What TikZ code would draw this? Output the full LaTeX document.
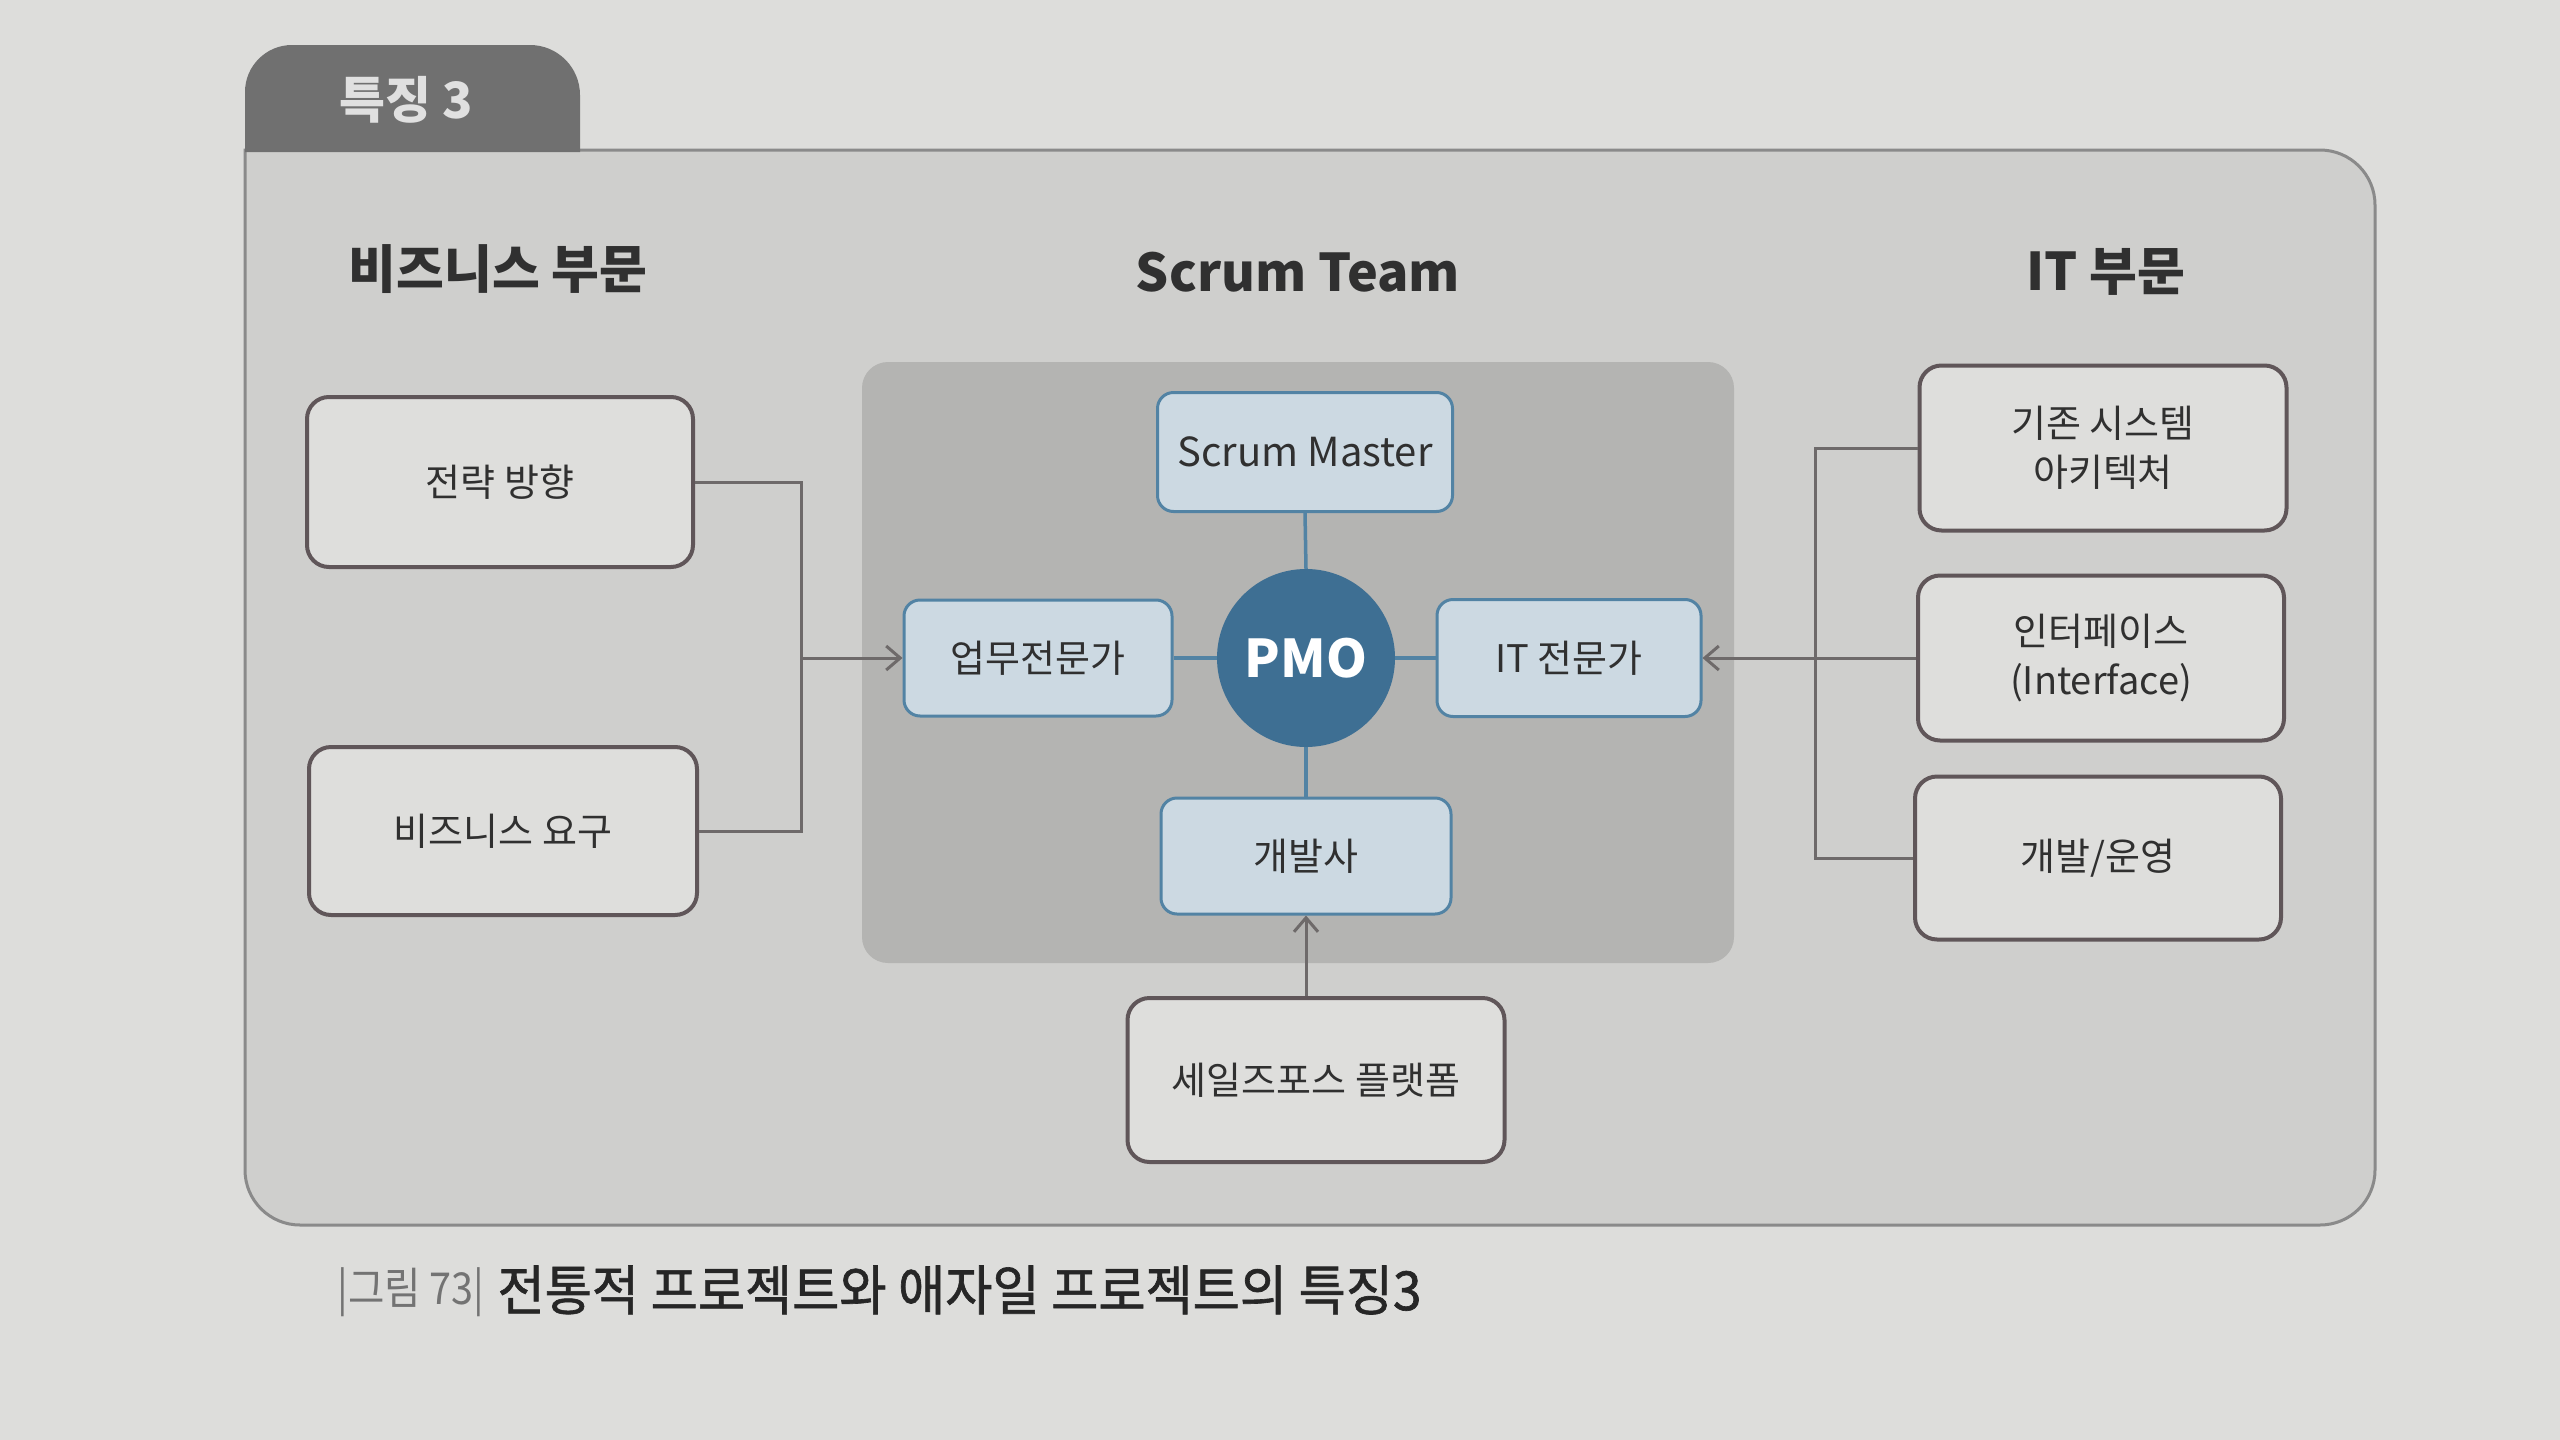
\documentclass[tikz,border=0pt]{standalone}
\usepackage{fontspec}
\setmainfont{Noto Sans CJK KR}
\newfontfamily\capfont[FakeStretch=0.95,FakeBold=1.2]{Noto Sans CJK KR}
\newfontfamily\capnumfont[FakeStretch=0.9]{Noto Sans CJK KR}
\usetikzlibrary{arrows.meta}
\definecolor{pagebg}{HTML}{DDDDDB}
\definecolor{framefill}{HTML}{CFCFCD}
\definecolor{frameline}{HTML}{8A8A8A}
\definecolor{teamfill}{HTML}{B4B4B2}
\definecolor{tabfill}{HTML}{707070}
\definecolor{boxfill}{HTML}{DEDEDC}
\definecolor{boxline}{HTML}{605659}
\definecolor{bluefill}{HTML}{CCD9E2}
\definecolor{blueline}{HTML}{5283A4}
\definecolor{pmofill}{HTML}{3E6F93}
\definecolor{connline}{HTML}{6E6A6A}
\definecolor{txt}{HTML}{303030}
\tikzset{
  graybox/.style={draw=boxline, line width=4pt, fill=boxfill, rounded corners=22pt,
    text=txt, font=\fontsize{38}{49}\selectfont, align=center, inner sep=0pt},
  bluebox/.style={draw=blueline, line width=3pt, fill=bluefill, rounded corners=16pt,
    text=txt, font=\fontsize{38}{49}\selectfont, align=center, inner sep=0pt},
  conn/.style={draw=connline, line width=3pt},
  arr/.style={-{Straight Barb[length=14pt,width=24pt,line width=3pt]}},
  bconn/.style={draw=blueline, line width=3.5pt},
  heading/.style={text=txt, font=\fontsize{52}{60}\selectfont\bfseries},
}
\begin{document}
\begin{tikzpicture}[x=1pt,y=-1pt]
\fill[pagebg] (0,0) rectangle (2560,1440);
\useasboundingbox (0,0) rectangle (2560,1440);

% main frame
\path[fill=framefill, draw=frameline, line width=3pt]
  (245,150) -- (2320,150) arc[start angle=-90, end angle=0, radius=55]
  -- (2375,1170) arc[start angle=0, end angle=90, radius=55]
  -- (300,1225) arc[start angle=90, end angle=180, radius=55] -- cycle;
% tab
\path[fill=tabfill]
  (245,152) -- (245,92) arc[start angle=180, end angle=270, radius=47]
  -- (530,45) arc[start angle=270, end angle=360, radius=50] -- (580,152) -- cycle;
\node[text=white!88!black, font=\fontsize{50}{56}\selectfont\bfseries] (tab) at (406,100) {특징 3};

% scrum team area
\path[fill=teamfill, rounded corners=26pt] (862,362) rectangle (1734,963);

% headings
\node[heading] (hbiz) at (498,269) {비즈니스 부문};
\node[heading] (hteam) at (1298,272) {Scrum Team};
\node[heading] (hit) at (2106,272) {IT 부문};

% left boxes
\node[graybox, minimum width=386pt, minimum height=170pt] (st) at (500,482) {전략 방향};
\node[graybox, minimum width=388pt, minimum height=168pt] (req) at (503,831) {비즈니스 요구};

% right boxes
\node[graybox, minimum width=367pt, minimum height=165pt] (legacy) at (2103,448) {기존 시스템\\아키텍처};
\node[graybox, minimum width=366pt, minimum height=165pt] (iface) at (2101,658) {인터페이스\\(Interface)};
\node[graybox, minimum width=366pt, minimum height=163pt] (ops) at (2098,858) {개발/운영};

% bottom box
\node[graybox, minimum width=377pt, minimum height=164pt] (sf) at (1316,1080) {세일즈포스 플랫폼};

% scrum team nodes
\node[bluebox, minimum width=295pt, minimum height=119pt, font=\fontsize{40}{49}\selectfont] (sm) at (1305,452) {Scrum Master};
\node[bluebox, minimum width=268pt, minimum height=116pt] (biz) at (1038,658) {업무전문가};
\node[bluebox, minimum width=264pt, minimum height=117pt] (itx) at (1569,658) {IT 전문가};
\node[bluebox, minimum width=290pt, minimum height=116pt] (dev) at (1306,856) {개발사};
\node[circle, fill=pmofill, minimum size=178pt, inner sep=0pt, text=white,
      font=\fontsize{52}{60}\selectfont\bfseries] (pmo) at (1306,658) {PMO};

% PMO links
\draw[bconn] (sm.south) -- (pmo.north);
\draw[bconn] (biz.east) -- (pmo.west);
\draw[bconn] (pmo.east) -- (itx.west);
\draw[bconn] (pmo.south) -- (dev.north);

% left connector
\coordinate (jl) at (801,658);
\draw[conn] (st.east) -| (jl);
\draw[conn] (req.east) -| (jl);
\draw[conn, arr] (jl) -- (biz.west);

% right connector
\coordinate (jr) at (1815,658);
\draw[conn] (legacy.west) -| (jr);
\draw[conn] (ops.west) -| (jr);
\draw[conn] (iface.west) -- (jr);
\draw[conn, arr] (jr) -- (itx.east);

% bottom connector
\draw[conn, arr] (dev.south |- sf.north) -- (dev.south);

% caption
\node[anchor=west, text=black!55, font=\capnumfont\fontsize{44}{50}\selectfont] (capnum) at (334,1292) {|그림 73|};
\node[anchor=west, text=black!85, font=\capfont\fontsize{54}{60}\selectfont] (cap) at (494,1290) {전통적 프로젝트와 애자일 프로젝트의 특징3};
\end{tikzpicture}
\end{document}
